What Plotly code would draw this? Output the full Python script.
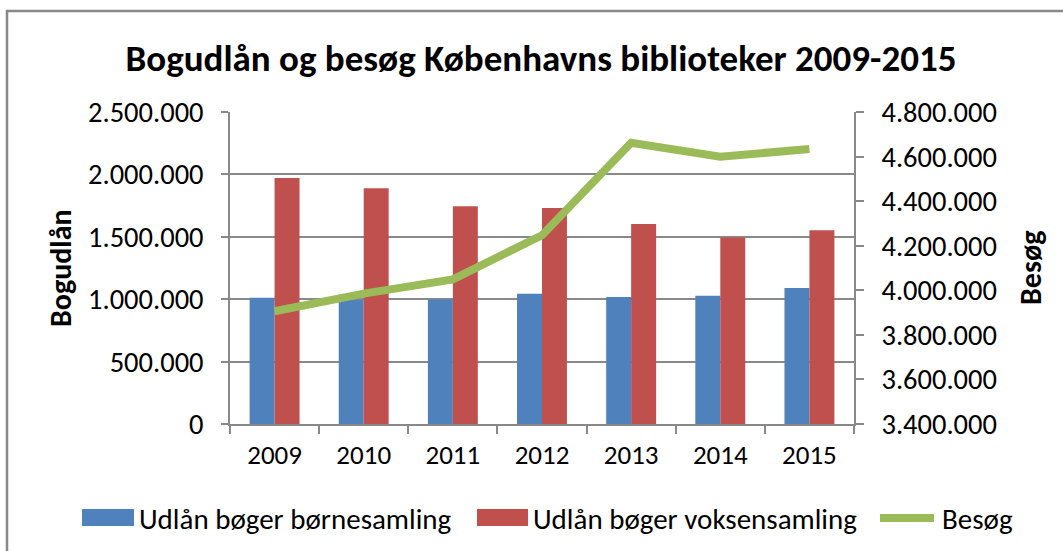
import plotly.graph_objects as go

years = ["2009", "2010", "2011", "2012", "2013", "2014", "2015"]
born = [1012000, 996000, 998000, 1044000, 1017000, 1028000, 1089000]
voksen = [1972000, 1890000, 1745000, 1731000, 1603000, 1494000, 1552000]
besog = [3906000, 3985000, 4049000, 4247000, 4662000, 4599000, 4634000]

names = ["Udlån bøger børnesamling", "Udlån bøger voksensamling", "Besøg"]
colors = ["#4F81BD", "#C0504D", "#9BBB59"]
title = "Bogudlån og besøg Københavns biblioteker 2009-2015"

FONT = "Carlito, Calibri, Lato, sans-serif"
GRAY = "#898989"

W, H = 1063, 551
L, R, T, B = 230, 854, 112, 424

def px(x):
    return (x - L) / (R - L)

def py(y):
    return (B - y) / (B - T)

fig = go.Figure()
fig.add_trace(go.Bar(x=years, y=born, name=names[0], marker_color=colors[0],
                     marker_line_width=0, showlegend=False))
fig.add_trace(go.Bar(x=years, y=voksen, name=names[1], marker_color=colors[1],
                     marker_line_width=0, showlegend=False))
fig.add_trace(go.Scatter(x=years, y=besog, name=names[2], yaxis="y2", mode="lines",
                         line=dict(color=colors[2], width=8), showlegend=False))

shapes = [
    # outer chart frame
    dict(type="rect", xref="paper", yref="paper", x0=px(7), x1=px(1075),
         y0=py(565), y1=py(11), line=dict(color=GRAY, width=2.5), layer="below"),
    # legend swatches
    dict(type="rect", xref="paper", yref="paper", x0=px(82), x1=px(134),
         y0=py(526), y1=py(509), fillcolor=colors[0], line_width=0),
    dict(type="rect", xref="paper", yref="paper", x0=px(477), x1=px(528),
         y0=py(526), y1=py(509), fillcolor=colors[1], line_width=0),
    dict(type="line", xref="paper", yref="paper", x0=px(880), x1=px(934),
         y0=py(518), y1=py(518), line=dict(color=colors[2], width=8)),
]

LEG = 29
annotations = [
    dict(text=names[0], xref="paper", yref="paper", x=px(137), y=py(519),
         xanchor="left", yanchor="middle", showarrow=False, font=dict(size=LEG)),
    dict(text=names[1], xref="paper", yref="paper", x=px(531), y=py(519),
         xanchor="left", yanchor="middle", showarrow=False, font=dict(size=LEG)),
    dict(text=names[2], xref="paper", yref="paper", x=px(940), y=py(519),
         xanchor="left", yanchor="middle", showarrow=False, font=dict(size=LEG)),
    dict(text="<b>Bogudlån</b>", xref="paper", yref="paper", x=px(60), y=0.5,
         textangle=-90, xanchor="center", yanchor="middle", showarrow=False,
         font=dict(size=30)),
    dict(text="<b>Besøg</b>", xref="paper", yref="paper", x=px(1030), y=0.5,
         textangle=-90, xanchor="center", yanchor="middle", showarrow=False,
         font=dict(size=30)),
]

fig.update_layout(
    width=W, height=H,
    margin=dict(l=L, r=W - R, t=T, b=H - B, autoexpand=False),
    paper_bgcolor="white", plot_bgcolor="white",
    font=dict(family=FONT, size=28, color="black"),
    separators=",.",
    title=dict(text="<b>" + title + "</b>", x=541 / W, y=1 - 58 / H,
               xref="container", yref="container",
               xanchor="center", yanchor="middle", font=dict(size=37)),
    barmode="group", bargap=0.44, bargroupgap=0,
    xaxis=dict(type="category", showline=True, linecolor=GRAY, linewidth=1.5,
               ticks="outside", tickson="boundaries", ticklen=8, tickcolor=GRAY,
               tickwidth=1.5, showgrid=False, tickfont=dict(size=27),
               ticklabelstandoff=6),
    yaxis=dict(range=[0, 2500000], dtick=500000, tickformat=",d",
               showline=True, linecolor=GRAY, linewidth=1.5, ticks="outside",
               ticklen=7, tickcolor=GRAY, tickwidth=1.5, showgrid=True,
               gridcolor=GRAY, gridwidth=1.5, zeroline=False,
               tickfont=dict(size=28.5), ticklabelstandoff=12),
    yaxis2=dict(range=[3400000, 4800000], dtick=200000, tickformat=",d",
                overlaying="y", side="right", showline=True, linecolor=GRAY,
                linewidth=1.5, ticks="outside", ticklen=8, tickcolor=GRAY,
                tickwidth=1.5, showgrid=False, zeroline=False,
                tickfont=dict(size=28.5), ticklabelstandoff=12),
    shapes=shapes,
    annotations=annotations,
)

fig.write_html("out.html")
